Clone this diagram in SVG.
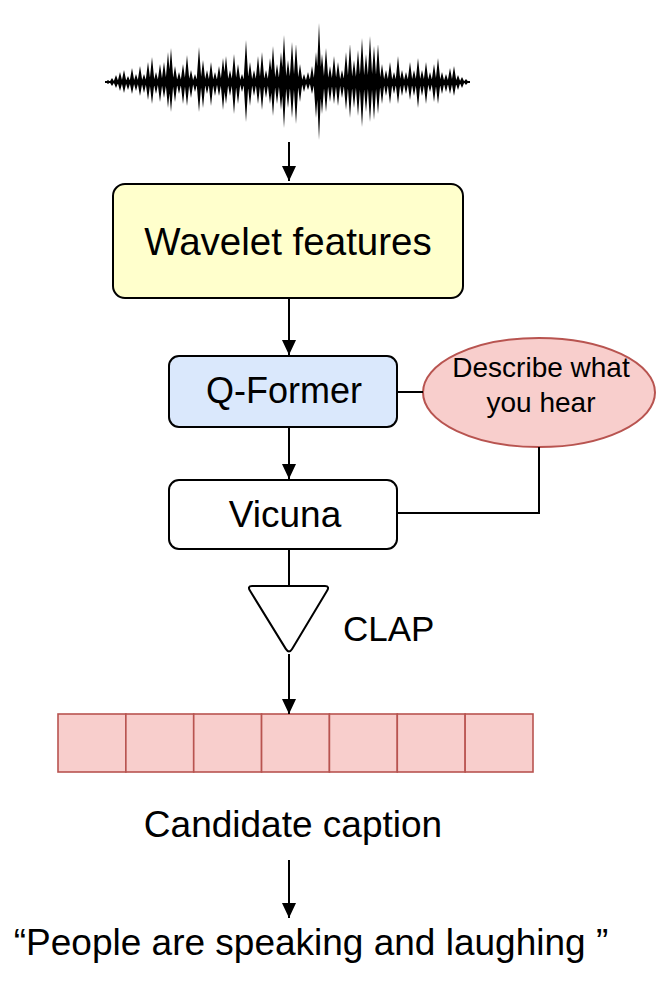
<svg xmlns="http://www.w3.org/2000/svg" width="664" height="988" viewBox="0 0 664 988">
<style>
  text { font-family: "Liberation Sans", Arial, sans-serif; fill: #000; }
  .box { stroke: #000; stroke-width: 2; }
  .conn { stroke: #000; stroke-width: 2; fill: none; }
  .cell { fill: #f8cecc; stroke: #b85450; stroke-width: 1.6; }
</style>
<defs>
  <marker id="arr" markerWidth="16" markerHeight="16" refX="15" refY="8" orient="auto" markerUnits="userSpaceOnUse">
    <path d="M0,1 L15,8 L0,15 Z" fill="#000"/>
  </marker>
</defs>
<rect width="664" height="988" fill="#fff"/>

<g id="waveform">
  <line x1="105" y1="82" x2="470" y2="82" stroke="#000" stroke-width="2"/>
  <path fill="#000" d="
M105.5,82 L108,80 L110.5,82 L108,84Z
M109.5,82 L112,78 L114.5,82 L112,86Z
M113.5,82 L116,75 L118.5,82 L116,88Z
M117.5,82 L120,72 L122.5,82 L120,91Z
M121.5,82 L124,70 L126.5,82 L124,93Z
M125.5,82 L128,76 L130.5,82 L128,90Z
M129.5,82 L132,68 L134.5,82 L132,94Z
M133.5,82 L136,74 L138.5,82 L136,91Z
M137.5,82 L140,66 L142.5,82 L140,96Z
M141.5,82 L144,74 L146.5,82 L144,93Z
M145.5,82 L148,62 L150.5,82 L148,100Z
M149.5,82 L152,57 L154.5,82 L152,104Z
M153.5,82 L156,72 L158.5,82 L156,94Z
M157.5,82 L160,64 L162.5,82 L160,102Z
M161.5,82 L164,62 L166.5,82 L164,98Z
M165.5,82 L168,52 L170.5,82 L168,108Z
M168.5,82 L171,48 L173.5,82 L171,112Z
M172.5,82 L175,66 L177.5,82 L175,102Z
M176.5,82 L179,72 L181.5,82 L179,94Z
M180.5,82 L183,64 L185.5,82 L183,104Z
M184.5,82 L187,55 L189.5,82 L187,106Z
M188.5,82 L191,70 L193.5,82 L191,98Z
M192.5,82 L195,74 L197.5,82 L195,92Z
M196.5,82 L199,47 L201.5,82 L199,112Z
M200.5,82 L203,60 L205.5,82 L203,108Z
M204.5,82 L207,70 L209.5,82 L207,94Z
M208.5,82 L211,62 L213.5,82 L211,106Z
M212.5,82 L215,72 L217.5,82 L215,96Z
M216.5,82 L219,66 L221.5,82 L219,96Z
M220.5,82 L223,58 L225.5,82 L223,110Z
M223.5,82 L226,56 L228.5,82 L226,104Z
M227.5,82 L230,70 L232.5,82 L230,96Z
M231.5,82 L234,54 L236.5,82 L234,114Z
M235.5,82 L238,64 L240.5,82 L238,104Z
M239.5,82 L242,74 L244.5,82 L242,92Z
M243.5,82 L246,40 L248.5,82 L246,122Z
M247.5,82 L250,62 L252.5,82 L250,106Z
M251.5,82 L254,70 L256.5,82 L254,96Z
M255.5,82 L258,56 L260.5,82 L258,104Z
M259.5,82 L262,52 L264.5,82 L262,110Z
M263.5,82 L266,70 L268.5,82 L266,98Z
M267.5,82 L270,58 L272.5,82 L270,104Z
M270.5,82 L273,46 L275.5,82 L273,116Z
M274.5,82 L277,64 L279.5,82 L277,104Z
M278.5,82 L281,52 L283.5,82 L281,110Z
M281.5,82 L284,35 L286.5,82 L284,128Z
M285.5,82 L288,60 L290.5,82 L288,108Z
M289.5,82 L292,42 L294.5,82 L292,118Z
M293.5,82 L296,44 L298.5,82 L296,124Z
M297.5,82 L300,64 L302.5,82 L300,102Z
M301.5,82 L304,74 L306.5,82 L304,92Z
M305.5,82 L308,72 L310.5,82 L308,90Z
M309.5,82 L312,66 L314.5,82 L312,94Z
M313.5,82 L316,52 L318.5,82 L316,118Z
M316.5,82 L319,23 L321.5,82 L319,140Z
M319.5,82 L322,54 L324.5,82 L322,114Z
M323.5,82 L326,48 L328.5,82 L326,112Z
M327.5,82 L330,66 L332.5,82 L330,102Z
M331.5,82 L334,56 L336.5,82 L334,104Z
M335.5,82 L338,62 L340.5,82 L338,106Z
M339.5,82 L342,70 L344.5,82 L342,98Z
M343.5,82 L346,52 L348.5,82 L346,110Z
M347.5,82 L350,44 L352.5,82 L350,118Z
M351.5,82 L354,60 L356.5,82 L354,108Z
M355.5,82 L358,50 L360.5,82 L358,116Z
M359.5,82 L362,38 L364.5,82 L362,127Z
M363.5,82 L366,54 L368.5,82 L366,112Z
M367.5,82 L370,36 L372.5,82 L370,122Z
M371.5,82 L374,46 L376.5,82 L374,120Z
M375.5,82 L378,44 L380.5,82 L378,114Z
M379.5,82 L382,64 L384.5,82 L382,104Z
M383.5,82 L386,70 L388.5,82 L386,96Z
M387.5,82 L390,62 L392.5,82 L390,104Z
M391.5,82 L394,72 L396.5,82 L394,94Z
M395.5,82 L398,56 L400.5,82 L398,104Z
M399.5,82 L402,70 L404.5,82 L402,96Z
M403.5,82 L406,72 L408.5,82 L406,94Z
M407.5,82 L410,62 L412.5,82 L410,100Z
M411.5,82 L414,70 L416.5,82 L414,96Z
M415.5,82 L418,58 L420.5,82 L418,108Z
M419.5,82 L422,70 L424.5,82 L422,96Z
M423.5,82 L426,62 L428.5,82 L426,104Z
M427.5,82 L430,72 L432.5,82 L430,92Z
M431.5,82 L434,64 L436.5,82 L434,102Z
M435.5,82 L438,58 L440.5,82 L438,104Z
M439.5,82 L442,72 L444.5,82 L442,94Z
M443.5,82 L446,74 L448.5,82 L446,92Z
M447.5,82 L450,68 L452.5,82 L450,94Z
M451.5,82 L454,66 L456.5,82 L454,96Z
M455.5,82 L458,75 L460.5,82 L458,90Z
M459.5,82 L462,77 L464.5,82 L462,88Z
M463.5,82 L466,79 L468.5,82 L466,85Z"/>
</g>

<g id="wavelet">
  <rect class="box" x="113" y="184" width="350" height="114" rx="12" fill="#ffffcc"/>
  <text x="288" y="255" font-size="38.5" text-anchor="middle">Wavelet features</text>
</g>

<g id="qformer">
  <rect class="box" x="169" y="356" width="228" height="71" rx="10" fill="#dae8fc"/>
  <text x="284" y="403" font-size="36" text-anchor="middle">Q-Former</text>
</g>

<g id="prompt">
  <ellipse cx="539" cy="392.5" rx="116" ry="54.5" fill="#f8cecc" stroke="#b85450" stroke-width="2"/>
  <text x="541" y="377" font-size="28" text-anchor="middle">Describe what</text>
  <text x="541" y="412" font-size="28" text-anchor="middle">you hear</text>
</g>

<g id="vicuna">
  <rect class="box" x="169" y="480" width="228" height="69" rx="10" fill="#fff"/>
  <text x="285" y="527" font-size="37" text-anchor="middle">Vicuna</text>
</g>

<g id="clap">
  <path class="box" fill="#fff" stroke-linejoin="round" d="M252,586 L325,586 Q330,586 326.9,591.1 L292.1,648.9 Q289,654 285.8,648.9 L250.2,591.1 Q247,586 252,586 Z"/>
  <text x="343" y="641" font-size="35">CLAP</text>
</g>

<g id="embedding">
  <rect class="cell" x="58" y="714" width="67.86" height="58"/>
  <rect class="cell" x="125.86" y="714" width="67.86" height="58"/>
  <rect class="cell" x="193.71" y="714" width="67.86" height="58"/>
  <rect class="cell" x="261.57" y="714" width="67.86" height="58"/>
  <rect class="cell" x="329.43" y="714" width="67.86" height="58"/>
  <rect class="cell" x="397.29" y="714" width="67.86" height="58"/>
  <rect class="cell" x="465.14" y="714" width="67.86" height="58"/>
</g>

<g id="candidate">
  <text x="293" y="837" font-size="37" text-anchor="middle">Candidate caption</text>
</g>

<g id="output">
  <text x="311" y="955" font-size="37" text-anchor="middle">“People are speaking and laughing ”</text>
</g>

<g id="connectors">
  <line class="conn" x1="289" y1="142" x2="289" y2="181" marker-end="url(#arr)"/>
  <line class="conn" x1="289" y1="298" x2="289" y2="355" marker-end="url(#arr)"/>
  <line class="conn" x1="289" y1="427" x2="289" y2="479" marker-end="url(#arr)"/>
  <line class="conn" x1="397" y1="392" x2="423" y2="392"/>
  <polyline class="conn" points="539,447 539,513 397,513"/>
  <line class="conn" x1="289" y1="549" x2="289" y2="586"/>
  <line class="conn" x1="289" y1="654" x2="289" y2="714" marker-end="url(#arr)"/>
  <line class="conn" x1="289" y1="860" x2="289" y2="918" marker-end="url(#arr)"/>
</g>
</svg>
